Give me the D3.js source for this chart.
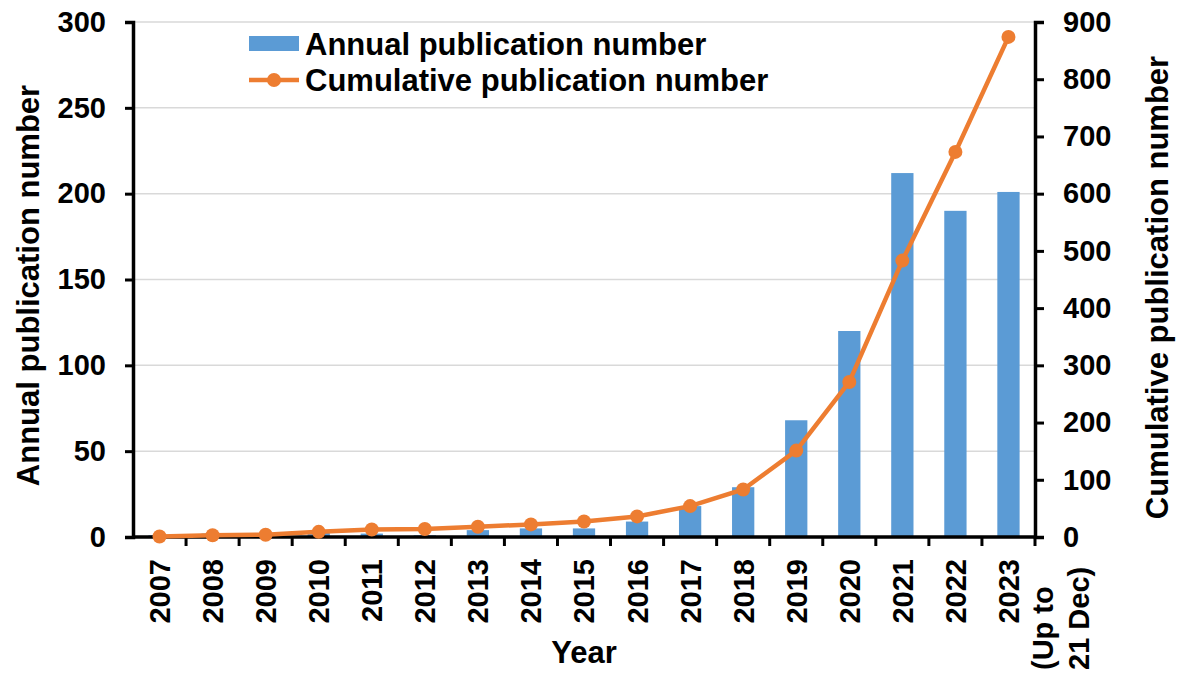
<!DOCTYPE html>
<html>
<head>
<meta charset="utf-8">
<script src="https://cdn.jsdelivr.net/npm/d3@7"></script>
<style>
  body { margin: 0; background: #fff; }
  text { font-family: "Liberation Sans", Arial, sans-serif; font-weight: bold; fill: #000; }
</style>
</head>
<body>
<div id="chart"></div>
<script>
// data
const years = ["2007", "2008", "2009", "2010", "2011", "2012", "2013", "2014", "2015",
  "2016", "2017", "2018", "2019", "2020", "2021", "2022", "2023"];
const annual = [1, 2, 1, 3, 2, 1, 4, 5, 5, 9, 18, 29, 68, 120, 212, 190, 201];
const cumulative = [1, 3, 4, 9, 13, 14, 18, 22, 27, 36, 54, 83, 151, 271, 483, 673, 874];
const leftTicks = [0, 50, 100, 150, 200, 250, 300];
const rightTicks = [0, 100, 200, 300, 400, 500, 600, 700, 800, 900];
const lastNote = ["(Up to", "21 Dec)"];

const width = 1181;
const height = 674;
const margin = { top: 22, right: 146, bottom: 137, left: 133 };
const blue = "#5b9bd5";
const orange = "#ed7d31";
const tickFont = "29px";
const titleFont = "31px";

const svg = d3.select("#chart")
  .append("svg")
  .attr("width", width)
  .attr("height", height);

const x = d3.scaleBand()
  .domain(years)
  .range([margin.left, width - margin.right])
  .paddingInner(0.58)
  .paddingOuter(0.29);

// band scale without padding for tick marks between categories
const xEdge = d3.scaleBand()
  .domain(years)
  .range([margin.left, width - margin.right]);

const yL = d3.scaleLinear()
  .domain([0, 300])
  .range([height - margin.bottom, margin.top]);

const yR = d3.scaleLinear()
  .domain([0, 900])
  .range([height - margin.bottom, margin.top]);

// gridlines
svg.append("g")
  .selectAll("line")
  .data(leftTicks.slice(1))
  .enter()
  .append("line")
  .attr("x1", margin.left)
  .attr("x2", width - margin.right)
  .attr("y1", d => yL(d))
  .attr("y2", d => yL(d))
  .attr("stroke", "#d9d9d9")
  .attr("stroke-width", 1.5);

// bars
svg.selectAll(".bar")
  .data(annual)
  .enter()
  .append("rect")
  .attr("class", "bar")
  .attr("x", (d, i) => x(years[i]))
  .attr("y", d => yL(d))
  .attr("width", x.bandwidth())
  .attr("height", d => yL(0) - yL(d))
  .attr("fill", blue);

// axes
const axisL = svg.append("g")
  .attr("transform", `translate(${margin.left},0)`)
  .call(d3.axisLeft(yL).tickValues(leftTicks).tickSize(8).tickPadding(19));

const axisR = svg.append("g")
  .attr("transform", `translate(${width - margin.right},0)`)
  .call(d3.axisRight(yR).tickValues(rightTicks).tickSize(9).tickPadding(19));

const axisB = svg.append("g")
  .attr("transform", `translate(0,${height - margin.bottom})`)
  .call(d3.axisBottom(xEdge).tickSize(0).tickPadding(0));

// tick marks between categories
svg.append("g")
  .selectAll("line")
  .data(years)
  .enter()
  .append("line")
  .attr("x1", d => xEdge(d) + xEdge.bandwidth())
  .attr("x2", d => xEdge(d) + xEdge.bandwidth())
  .attr("y1", yL(0))
  .attr("y2", yL(0) + 9)
  .attr("stroke", "#000")
  .attr("stroke-width", 3);

[axisL, axisR, axisB].forEach(g => {
  g.select(".domain").attr("stroke", "#000").attr("stroke-width", 3.5);
  g.selectAll(".tick line").attr("stroke", "#000").attr("stroke-width", 3);
  g.selectAll("text").style("font-size", tickFont).attr("fill", "#000");
});
axisB.select(".domain").attr("d", `M${margin.left},0H${width - margin.right}`);

axisB.selectAll(".tick text")
  .attr("transform", "rotate(-90)")
  .attr("text-anchor", "end")
  .attr("x", -22)
  .attr("y", 0)
  .attr("dy", "0.36em");

// extra lines under the last year
const lastX = xEdge(years[years.length - 1]) + xEdge.bandwidth() / 2;
svg.append("g")
  .selectAll("text")
  .data(lastNote)
  .enter()
  .append("text")
  .attr("transform", (d, i) => `translate(${lastX + 45 + i * 36},${height - 4}) rotate(-90)`)
  .attr("text-anchor", "start")
  .style("font-size", tickFont)
  .text(d => d);

// cumulative line
const line = d3.line()
  .x((d, i) => xEdge(years[i]) + xEdge.bandwidth() / 2)
  .y(d => yR(d));

svg.append("path")
  .datum(cumulative)
  .attr("d", line)
  .attr("fill", "none")
  .attr("stroke", orange)
  .attr("stroke-width", 4.5);

svg.selectAll(".dot")
  .data(cumulative)
  .enter()
  .append("circle")
  .attr("class", "dot")
  .attr("cx", (d, i) => xEdge(years[i]) + xEdge.bandwidth() / 2)
  .attr("cy", d => yR(d))
  .attr("r", 7)
  .attr("fill", orange);

// axis titles
svg.append("text")
  .attr("transform", `translate(28,${(yL(0) + yL(300)) / 2 + 6}) rotate(-90)`)
  .attr("text-anchor", "middle")
  .attr("dy", "0.36em")
  .style("font-size", titleFont)
  .text("Annual publication number");

svg.append("text")
  .attr("transform", `translate(1157,${(yL(0) + yL(300)) / 2 + 8}) rotate(-90)`)
  .attr("text-anchor", "middle")
  .attr("dy", "0.36em")
  .style("font-size", titleFont)
  .text("Cumulative publication number");

svg.append("text")
  .attr("x", (margin.left + width - margin.right) / 2)
  .attr("y", 652)
  .attr("text-anchor", "middle")
  .attr("dy", "0.36em")
  .style("font-size", titleFont)
  .text("Year");

// legend
const legend = svg.append("g").attr("transform", "translate(249,44)");
legend.append("rect")
  .attr("x", 0).attr("y", -8)
  .attr("width", 50).attr("height", 15)
  .attr("fill", blue);
legend.append("text")
  .attr("x", 56).attr("y", 0)
  .attr("dy", "0.36em")
  .style("font-size", titleFont)
  .text("Annual publication number");
legend.append("line")
  .attr("x1", 0).attr("x2", 50)
  .attr("y1", 36).attr("y2", 36)
  .attr("stroke", orange).attr("stroke-width", 4.5);
legend.append("circle")
  .attr("cx", 25).attr("cy", 36).attr("r", 7)
  .attr("fill", orange);
legend.append("text")
  .attr("x", 56).attr("y", 36)
  .attr("dy", "0.36em")
  .style("font-size", titleFont)
  .text("Cumulative publication number");
</script>
</body>
</html>
